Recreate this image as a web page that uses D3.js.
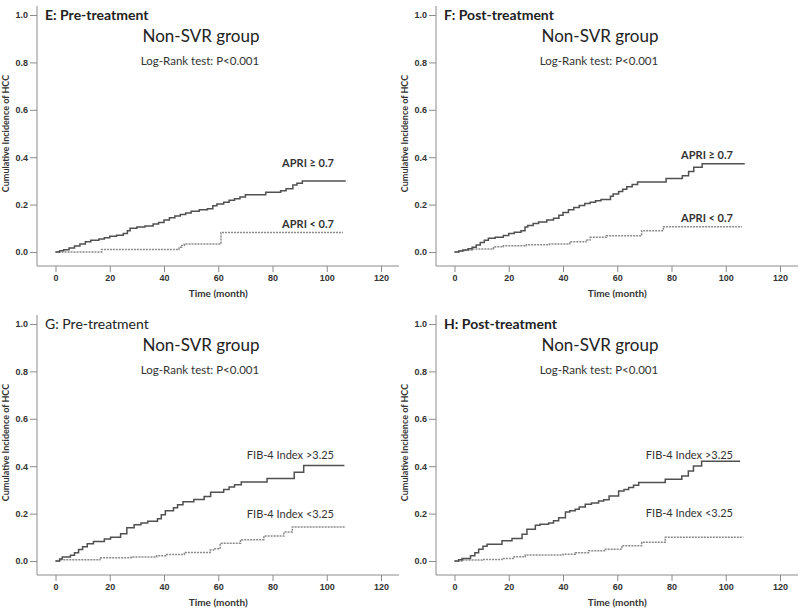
<!DOCTYPE html>
<html>
<head>
<meta charset="utf-8">
<script src="https://cdnjs.cloudflare.com/ajax/libs/d3/7.8.5/d3.min.js"></script>
<style>
  body { margin: 0; background: #fff; }
  svg { display: block; font-family: Lato, "Open Sans", sans-serif; }
  .tick text { font-size: 9px; font-weight: bold; fill: #333; }
  .tick line { stroke: #8c8c8c; }
</style>
</head>
<body>
<div id="chart"></div>
<script>
// tick labels
var timeTicks = [0, 20, 40, 60, 80, 100, 120];
var cumTicks = [0, 0.2, 0.4, 0.6, 0.8, 1.0];

// Kaplan-Meier steps: [month, cumulative incidence]
var preApriHigh = [[0,0],[1.5,0.005],[3,0.01],[5,0.017],[7,0.025],[9,0.034],[11,0.043],[13,0.05],[16,0.055],[18,0.06],[20,0.066],[22.5,0.071],[25,0.078],[26.5,0.09],[27.5,0.1],[30,0.105],[33,0.11],[36,0.118],[38,0.125],[40,0.135],[42,0.145],[44,0.152],[46,0.158],[48,0.165],[50,0.172],[53,0.178],[56,0.183],[58,0.195],[59.5,0.203],[62,0.21],[64,0.218],[66,0.225],[68,0.232],[70,0.242],[77.5,0.252],[83,0.258],[85,0.267],[87.5,0.283],[89,0.29],[91,0.30],[107,0.30]];
var preApriLow = [[0,0],[17,0.011],[45.5,0.02],[46.5,0.027],[47.5,0.034],[61,0.082],[106,0.082]];

var postApriHigh = [[0,0],[1.5,0.004],[3,0.008],[5,0.014],[6.5,0.02],[8,0.03],[9.5,0.04],[11,0.05],[12.5,0.058],[15,0.062],[18,0.07],[20,0.078],[22,0.083],[24.5,0.09],[26,0.105],[27,0.112],[29,0.12],[31,0.127],[34,0.135],[36.5,0.142],[38.5,0.155],[40,0.167],[42,0.178],[44,0.188],[46,0.196],[48,0.205],[50,0.21],[52,0.216],[54,0.222],[57.5,0.235],[58.5,0.245],[60.5,0.255],[62,0.265],[63.5,0.275],[65.5,0.285],[67.5,0.295],[78,0.31],[84,0.322],[86.3,0.34],[88.2,0.358],[91.3,0.372],[107,0.372]];
var postApriLow = [[0,0],[2,0.004],[4,0.008],[6.5,0.013],[14.4,0.022],[18,0.026],[26.5,0.031],[35,0.034],[42.5,0.043],[48.5,0.051],[50,0.062],[56,0.069],[69,0.09],[77,0.107],[106,0.107]];

var preFibHigh = [[0,0],[1.5,0.008],[2.5,0.017],[5.5,0.024],[7,0.035],[8.5,0.048],[10,0.06],[11.7,0.073],[14,0.082],[18,0.093],[20.3,0.1],[24,0.115],[26.3,0.14],[29,0.153],[31.5,0.16],[34,0.168],[37.6,0.178],[39,0.195],[40.5,0.212],[43.5,0.225],[45,0.237],[47,0.25],[51,0.26],[54.8,0.272],[57.2,0.29],[62,0.302],[64,0.312],[66,0.322],[68.5,0.333],[78,0.348],[88,0.375],[91.5,0.403],[106.5,0.403]];
var preFibLow = [[0,0],[1.5,0.005],[16.4,0.014],[28,0.017],[37.3,0.022],[41,0.027],[47.5,0.036],[57,0.046],[58.3,0.052],[60.7,0.075],[68.2,0.09],[76.8,0.105],[84.2,0.122],[87.3,0.143],[107,0.143]];

var postFibHigh = [[0,0],[1.5,0.005],[2.8,0.011],[5.9,0.022],[7.5,0.035],[8.9,0.05],[10.5,0.062],[12,0.071],[17.5,0.085],[21.2,0.095],[24.9,0.113],[26.7,0.134],[29.8,0.151],[31.5,0.155],[34.7,0.16],[36.5,0.17],[38.4,0.183],[40.9,0.207],[42.5,0.212],[44.5,0.218],[46,0.228],[48.2,0.239],[50.5,0.245],[53.1,0.253],[55,0.258],[57,0.274],[60.5,0.295],[62.5,0.302],[64.2,0.31],[66,0.32],[67.9,0.331],[77.7,0.345],[83.8,0.359],[86.2,0.38],[88.1,0.401],[91.1,0.421],[105.3,0.421]];
var postFibLow = [[0,0],[3,0.004],[10.2,0.006],[17.5,0.011],[22,0.018],[26.1,0.025],[40,0.029],[44.5,0.035],[49.4,0.043],[55.6,0.05],[61.7,0.064],[69,0.079],[77.7,0.1],[106.5,0.1]];

var panels = [
  { x: 0,   y: 0,   title: 'E: Pre-treatment',  bold: true,  hi: preApriHigh,  lo: preApriLow,
    hiLabel: 'APRI \u2265 0.7', loLabel: 'APRI < 0.7', labelBold: true, hiY: 167, loY: 228 },
  { x: 399, y: 0,   title: 'F: Post-treatment', bold: true,  hi: postApriHigh, lo: postApriLow,
    hiLabel: 'APRI \u2265 0.7', loLabel: 'APRI < 0.7', labelBold: true, hiY: 159, loY: 222 },
  { x: 0,   y: 309, title: 'G: Pre-treatment',  bold: false, hi: preFibHigh,   lo: preFibLow,
    hiLabel: 'FIB-4 Index >3.25', loLabel: 'FIB-4 Index <3.25', labelBold: false, hiY: 150, loY: 209 },
  { x: 399, y: 309, title: 'H: Post-treatment', bold: true,  hi: postFibHigh,  lo: postFibLow,
    hiLabel: 'FIB-4 Index >3.25', loLabel: 'FIB-4 Index <3.25', labelBold: false, hiY: 150, loY: 208 }
];

var svg = d3.select('#chart').append('svg')
  .attr('width', 800)
  .attr('height', 611);

// shared panel geometry
var axisX = 37, axisY = 266, axisTop = 6, axisRight = 399;
var xScale = d3.scaleLinear().domain([0, 120]).range([55.5, 381]);
var yScale = d3.scaleLinear().domain([0, 1]).range([252, 15]);

var line = d3.line()
  .curve(d3.curveStepAfter)
  .x(d => xScale(d[0]))
  .y(d => yScale(d[1]));

panels.forEach(function(p) {
  var g = svg.append('g').attr('transform', 'translate(' + p.x + ',' + p.y + ')');

  // frame lines
  g.append('line')
    .attr('x1', axisX).attr('x2', axisX)
    .attr('y1', axisTop).attr('y2', axisY)
    .attr('stroke', '#8c8c8c');
  g.append('line')
    .attr('x1', axisX).attr('x2', axisRight)
    .attr('y1', axisY).attr('y2', axisY)
    .attr('stroke', '#8c8c8c');

  var yAxis = g.append('g')
    .attr('transform', 'translate(' + axisX + ',0)')
    .call(d3.axisLeft(yScale).tickValues(cumTicks).tickFormat(d3.format('.1f')).tickSize(7).tickPadding(2));
  yAxis.select('.domain').remove();

  var xAxis = g.append('g')
    .attr('transform', 'translate(0,' + axisY + ')')
    .call(d3.axisBottom(xScale).tickValues(timeTicks).tickSize(6).tickPadding(3));
  xAxis.select('.domain').remove();

  // axis titles
  g.append('text')
    .attr('transform', 'translate(9,' + yScale(0.5) + ') rotate(-90)')
    .attr('text-anchor', 'middle')
    .attr('font-size', 9)
    .attr('font-weight', 'bold')
    .attr('fill', '#333')
    .text('Cumulative Incidence of HCC');

  g.append('text')
    .attr('x', xScale(60))
    .attr('y', 297)
    .attr('text-anchor', 'middle')
    .attr('font-size', 10)
    .attr('font-weight', 'bold')
    .attr('fill', '#333')
    .text('Time (month)');

  // curves
  g.append('path')
    .datum(p.lo)
    .attr('d', line)
    .attr('fill', 'none')
    .attr('stroke', '#8a8a8a')
    .attr('stroke-width', 1.5)
    .attr('stroke-dasharray', '2,1');

  g.append('path')
    .datum(p.hi)
    .attr('d', line)
    .attr('fill', 'none')
    .attr('stroke', '#505050')
    .attr('stroke-width', 1.5);

  // annotations
  g.append('text')
    .attr('x', 45).attr('y', 20)
    .attr('font-size', 14)
    .attr('font-weight', p.bold ? 'bold' : 'normal')
    .attr('fill', '#222')
    .text(p.title);

  g.append('text')
    .attr('x', 201).attr('y', 42)
    .attr('text-anchor', 'middle')
    .attr('font-size', 17)
    .attr('fill', '#222')
    .text('Non-SVR group');

  g.append('text')
    .attr('x', 200).attr('y', 65)
    .attr('text-anchor', 'middle')
    .attr('font-size', 11.5)
    .attr('fill', '#333')
    .text('Log-Rank test: P<0.001');

  g.append('text')
    .attr('x', 334).attr('y', p.hiY)
    .attr('text-anchor', 'end')
    .attr('font-size', 11)
    .attr('font-weight', p.labelBold ? 'bold' : 'normal')
    .attr('fill', '#333')
    .text(p.hiLabel);

  g.append('text')
    .attr('x', 334).attr('y', p.loY)
    .attr('text-anchor', 'end')
    .attr('font-size', 11)
    .attr('font-weight', p.labelBold ? 'bold' : 'normal')
    .attr('fill', '#333')
    .text(p.loLabel);
});
</script>
</body>
</html>
